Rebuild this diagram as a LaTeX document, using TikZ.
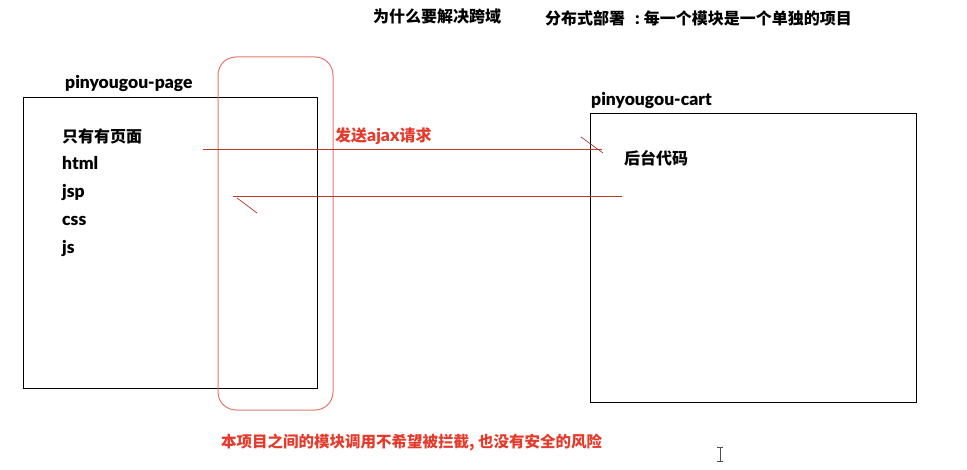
\documentclass[tikz,border=0pt]{standalone}
\usepackage{fontspec}
\setmainfont{Noto Sans CJK SC}
\newfontfamily\latb{Lato Bold}
\newcommand\lat{\latb\fontsize{17.5}{18}\selectfont}
\definecolor{linered}{HTML}{B5392C}
\definecolor{txtred}{HTML}{E43B2C}
\definecolor{ovalred}{HTML}{E8776E}
\begin{document}
\begin{tikzpicture}[x=1pt,y=-1pt,
  lbl/.style={anchor=base west,inner sep=0pt,font=\fontsize{16}{18}\selectfont\bfseries},
  redlbl/.style={lbl,text=txtred},
  boxstyle/.style={draw=black,line width=0.9pt},
  conn/.style={draw=linered,line width=0.9pt}]
\useasboundingbox (0,0) rectangle (967,470);
\fill[white] (0,0) rectangle (967,470);
% boxes
\node[boxstyle,minimum width=294pt,minimum height=291pt,anchor=north west,inner sep=0pt] (page) at (23,97) {};
\node[boxstyle,minimum width=326pt,minimum height=289pt,anchor=north west,inner sep=0pt] (cart) at (590,113) {};
\draw[draw=ovalred,line width=1pt,rounded corners=18pt] (218,57) rectangle (333,410);
% titles
\node[lbl] (t1) at (373,23) {为什么要解决跨域};
\node[lbl] (t2) at (545,25) {分布式部署\hspace{10pt}{\lat :}\hspace{4pt}每一个模块是一个单独的项目};
\node[lbl] (pl) at (65,89) {\lat pinyougou-page};
\node[lbl] (cl) at (591,106) {\lat pinyougou-cart};
\node[lbl] (a1) at (62,143) {只有有页面};
\node[lbl] (a2) at (62,170) {\lat html};
\node[lbl] (a3) at (62,198) {\lat jsp};
\node[lbl] (a4) at (62,226) {\lat css};
\node[lbl] (a5) at (62,254) {\lat js};
\node[lbl] (b1) at (624,165) {后台代码};
\node[redlbl] (req) at (335,142) {发送{\lat ajax}请求};
\node[redlbl,font=\fontsize{15.5}{18}\selectfont\bfseries] (note) at (221,447) {本项目之间的模块调用不希望被拦截, 也没有安全的风险};
% connectors
\coordinate (s1) at (203,149);
\coordinate (e1) at (602,149);
\coordinate (s2) at (622,196);
\coordinate (e2) at (233,196);
\draw[conn] (s1) -- (e1);
\draw[conn,line width=0.7pt] (581,137) -- (603,153);
\draw[conn] (s2) -- (e2);
\draw[conn,line width=0.7pt] (237,198) -- (257,213);
% text cursor
\draw[black!70,line width=0.8pt] (720,447) -- (720,461) (717,447) -- (723,447) (717,461) -- (723,461);
\end{tikzpicture}
\end{document}
